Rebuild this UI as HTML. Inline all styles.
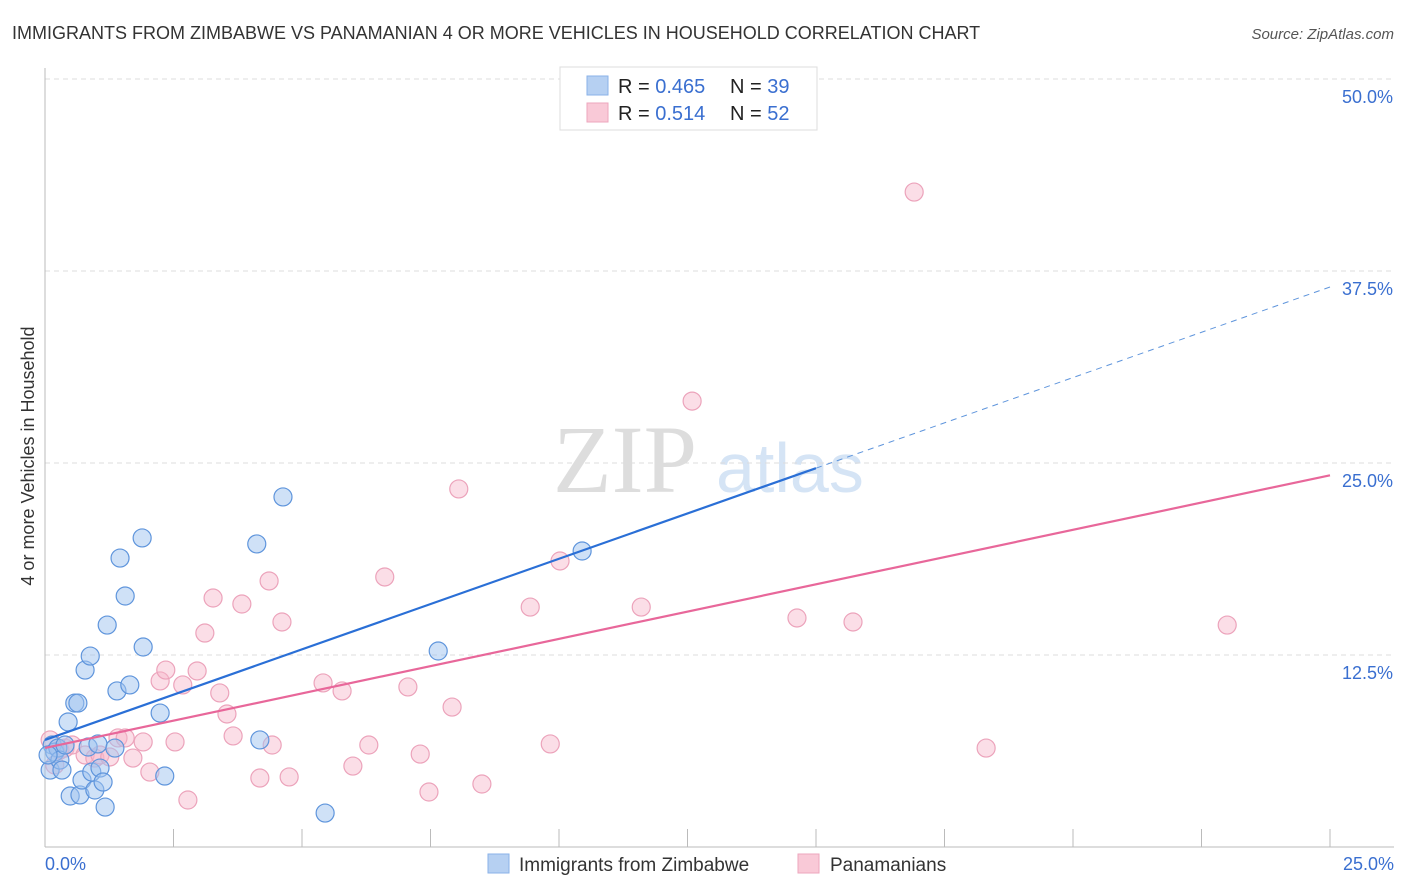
<!DOCTYPE html>
<html><head><meta charset="utf-8">
<style>
body{margin:0;background:#fff;font-family:"Liberation Sans",sans-serif;}
#wrap{position:relative;width:1406px;height:892px;overflow:hidden;}
</style></head>
<body>
<div id="wrap">
<svg id="svg" width="1406" height="892" xmlns="http://www.w3.org/2000/svg">
<text x="12" y="39" font-size="18" fill="#333">IMMIGRANTS FROM ZIMBABWE VS PANAMANIAN 4 OR MORE VEHICLES IN HOUSEHOLD CORRELATION CHART</text>
<text x="1394" y="39" font-size="15" fill="#555" font-style="italic" text-anchor="end">Source: ZipAtlas.com</text>
<text transform="translate(34,456) rotate(-90)" font-size="18" fill="#333" text-anchor="middle">4 or more Vehicles in Household</text>
<g>
<text x="553" y="492" font-size="96" font-family="Liberation Serif,serif" fill="#ddd">ZIP</text>
<text x="716" y="492" font-size="70" fill="#d5e4f5">atlas</text>
</g>
<g id="grid"></g><g id="axes"></g><g id="pts"></g><g id="lines"></g>
<g>
<rect x="560" y="67" width="257" height="63" fill="#fff" stroke="#ddd"/>
<rect x="587" y="76" width="21" height="19" fill="#b6d0f2" stroke="#8ab2e8"/>
<rect x="587" y="103" width="21" height="19" fill="#f9c9d7" stroke="#eda6bd"/>
<text x="618" y="93" font-size="20" fill="#222">R = <tspan fill="#3a6fd0">0.465</tspan></text>
<text x="730" y="93" font-size="20" fill="#222">N = <tspan fill="#3a6fd0">39</tspan></text>
<text x="618" y="120" font-size="20" fill="#222">R =  <tspan fill="#3a6fd0">0.514</tspan></text>
<text x="730" y="120" font-size="20" fill="#222">N = <tspan fill="#3a6fd0">52</tspan></text>
</g>
<g>
<rect x="488" y="854" width="21" height="19" fill="#b6d0f2" stroke="#8ab2e8"/>
<text x="519" y="871" font-size="19" fill="#333">Immigrants from Zimbabwe</text>
<rect x="798" y="854" width="21" height="19" fill="#f9c9d7" stroke="#eda6bd"/>
<text x="830" y="871" font-size="19" fill="#333">Panamanians</text>
</g>
</svg>
</div>
<script>
const yTicks=[12.5,25,37.5,50];
const yTickLabels=["12.5%","25.0%","37.5%","50.0%"];
const xTicks=[0,2.5,5,7.5,10,12.5,15,17.5,20,22.5,25];
const xEndLabels=["0.0%","25.0%"];
const blueX=[0.10,0.14,0.19,0.25,0.29,0.33,0.39,0.45,0.49,0.58,0.64,0.68,0.72,0.78,0.84,0.88,0.91,0.97,1.03,1.07,1.13,1.17,1.21,1.36,1.40,1.46,1.56,1.65,1.89,1.91,2.24,2.33,4.12,4.18,4.63,5.45,7.65,10.45,0.06];
const blueY=[5.01,6.64,6.18,6.44,5.66,5.01,6.64,8.14,3.32,9.37,9.37,3.39,4.36,11.52,6.51,12.43,4.88,3.71,6.71,5.14,4.23,2.60,14.45,6.44,10.16,18.81,16.34,10.55,20.12,13.02,8.72,4.62,19.73,6.97,22.79,2.21,12.76,19.27,5.99];
const pinkX=[0.10,0.19,0.29,0.39,0.53,0.78,0.97,1.07,1.26,1.42,1.56,1.71,1.91,2.04,2.24,2.35,2.53,2.68,2.78,2.96,3.11,3.27,3.40,3.54,3.66,3.83,4.18,4.36,4.42,4.61,4.75,5.41,5.78,5.99,6.30,6.61,7.06,7.30,7.47,7.92,8.05,8.50,9.44,9.83,10.02,11.60,12.59,14.63,15.72,16.91,18.31,23.00];
const pinkY=[6.97,5.34,6.31,6.44,6.64,5.99,5.79,5.99,5.86,7.10,7.10,5.79,6.84,4.88,10.81,11.52,6.84,10.55,3.06,11.46,13.93,16.21,10.03,8.66,7.23,15.82,4.49,17.32,6.64,14.65,4.56,10.68,10.16,5.27,6.64,17.58,10.42,6.05,3.58,9.11,23.31,4.10,15.62,6.71,18.62,15.62,29.03,14.91,14.65,42.64,6.44,14.45];
const blueTrend=[6.97,36.46]; // y at x=0 and x=25
const blueSolidEnd=15;
const pinkTrend=[6.45,24.2];

const NS="http://www.w3.org/2000/svg";
const X=v=>45+v/25*1285;
const Y=v=>847-v/12.5*192;
function mk(tag,attrs,parent){const e=document.createElementNS(NS,tag);for(const k in attrs)e.setAttribute(k,attrs[k]);document.getElementById(parent).appendChild(e);return e;}

yTicks.forEach((t,i)=>{
  const g=mk('line',{x1:45,x2:1394,y1:Y(t),y2:Y(t),stroke:'#ddd','stroke-dasharray':'5,4'},'grid');
  
  
  const tx=mk('text',{x:1393,y:Y(t)+24,'font-size':18,fill:'#3a6fd0','text-anchor':'end'},'grid');
  tx.textContent=yTickLabels[i];
  
  
});
const ax=mk('line',{x1:45,x2:45,y1:68,y2:847,stroke:'#bbb'},'axes');


const bx=mk('line',{x1:45,x2:1394,y1:847,y2:847,stroke:'#bbb'},'axes');


xTicks.forEach(t=>{
  const l=mk('line',{x1:X(t),x2:X(t),y1:829,y2:847,stroke:'#bbb'},'axes');
  
  
});
const xl0=mk('text',{x:45,y:870,'font-size':18,fill:'#3a6fd0'},'axes');
xl0.textContent=xEndLabels[0];


const xl1=mk('text',{x:1394,y:870,'font-size':18,fill:'#3a6fd0','text-anchor':'end'},'axes');
xl1.textContent=xEndLabels[1];



pinkX.forEach((v,i)=>{
  const c=mk('circle',{cx:X(v),cy:Y(pinkY[i]),r:9,fill:'rgba(246,182,202,0.45)',stroke:'#eca3bb','stroke-width':1.2},'pts');
  
  
});
blueX.forEach((v,i)=>{
  const c=mk('circle',{cx:X(v),cy:Y(blueY[i]),r:9,fill:'rgba(160,196,240,0.5)',stroke:'#5f95dc','stroke-width':1.2},'pts');
  
  
});
const bAt=x=>blueTrend[0]+(blueTrend[1]-blueTrend[0])*x/25;
const bl=mk('line',{x1:X(0),y1:Y(bAt(0)),x2:X(blueSolidEnd),y2:Y(bAt(blueSolidEnd)),stroke:'#2a6fd6','stroke-width':2.2},'lines');


const bd=mk('line',{x1:X(blueSolidEnd),y1:Y(bAt(blueSolidEnd)),x2:X(25),y2:Y(bAt(25)),stroke:'#5f95dc','stroke-width':1,'stroke-dasharray':'6,5'},'lines');


const pl=mk('line',{x1:X(0),y1:Y(pinkTrend[0]),x2:X(25),y2:Y(pinkTrend[1]),stroke:'#e8679a','stroke-width':2.2},'lines');


</script>
</body></html>
